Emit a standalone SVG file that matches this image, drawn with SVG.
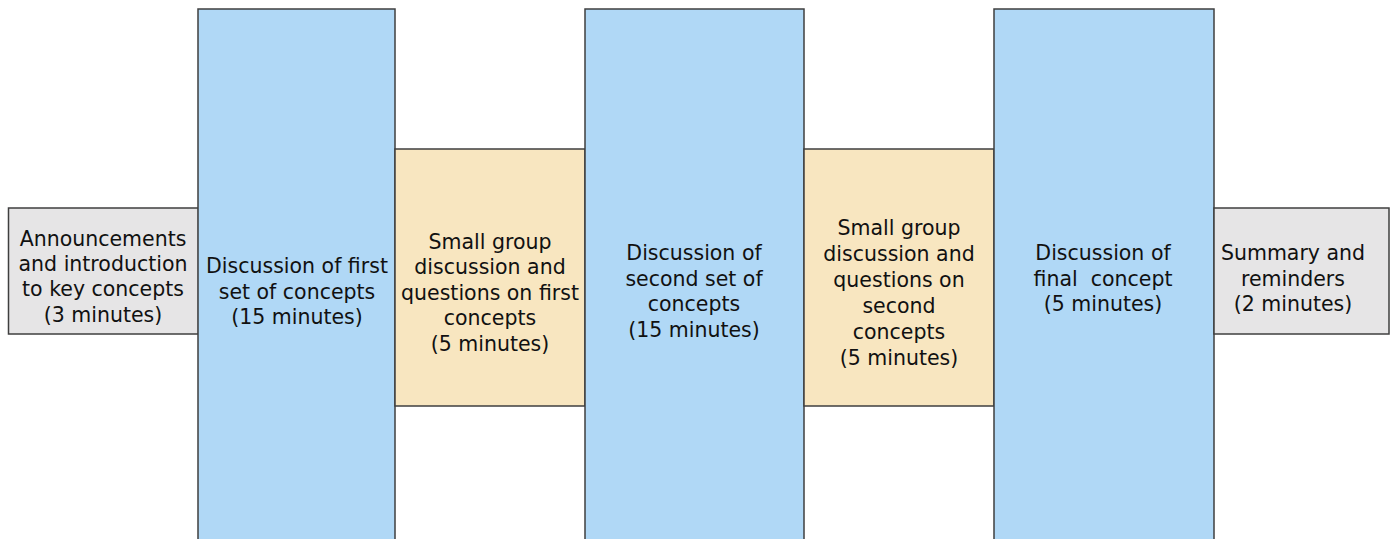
<svg xmlns="http://www.w3.org/2000/svg" width="1390" height="539" viewBox="0 0 1390 539">
<style>
rect{stroke:#3f3f3f;stroke-width:1.5}
.gray{fill:#e6e5e6}
.blue{fill:#b0d8f6}
.yellow{fill:#f8e6c0}
text{font-family:"DejaVu Sans",sans-serif;font-size:20.5px;fill:#111;text-anchor:middle}
</style>
<rect width="1390" height="539" fill="#ffffff" style="stroke:none"/>
<g id="connectors"></g>
<g id="n1">
<rect class="gray" x="8.5" y="208" width="190" height="126"/>
<text x="103"><tspan x="103" y="246">Announcements</tspan><tspan x="103" y="271">and introduction</tspan><tspan x="103" y="296">to key concepts</tspan><tspan x="103" y="322">(3 minutes)</tspan></text>
</g>
<g id="n2">
<rect class="blue" x="198" y="9" width="197" height="540"/>
<text><tspan x="297" y="273">Discussion of first</tspan><tspan x="297" y="299">set of concepts</tspan><tspan x="297" y="324">(15 minutes)</tspan></text>
</g>
<g id="n3">
<rect class="yellow" x="395" y="149" width="190" height="257"/>
<text><tspan x="490" y="248.5">Small group</tspan><tspan x="490" y="274">discussion and</tspan><tspan x="490" y="299.5">questions on first</tspan><tspan x="490" y="325">concepts</tspan><tspan x="490" y="350.5">(5 minutes)</tspan></text>
</g>
<g id="n4">
<rect class="blue" x="585" y="9" width="219" height="540"/>
<text><tspan x="694" y="260">Discussion of</tspan><tspan x="694" y="285.5">second set of</tspan><tspan x="694" y="311">concepts</tspan><tspan x="694" y="336.5">(15 minutes)</tspan></text>
</g>
<g id="n5">
<rect class="yellow" x="804" y="149" width="190" height="257"/>
<text><tspan x="899" y="235">Small group</tspan><tspan x="899" y="261">discussion and</tspan><tspan x="899" y="287">questions on</tspan><tspan x="899" y="313">second</tspan><tspan x="899" y="339">concepts</tspan><tspan x="899" y="365">(5 minutes)</tspan></text>
</g>
<g id="n6">
<rect class="blue" x="994" y="9" width="220" height="540"/>
<text><tspan x="1103" y="260">Discussion of</tspan><tspan x="1103" y="285.5" xml:space="preserve">final  concept</tspan><tspan x="1103" y="311">(5 minutes)</tspan></text>
</g>
<g id="n7">
<rect class="gray" x="1214" y="208" width="175" height="126"/>
<text><tspan x="1293" y="260">Summary and</tspan><tspan x="1293" y="285.5">reminders</tspan><tspan x="1293" y="311">(2 minutes)</tspan></text>
</g>
</svg>
